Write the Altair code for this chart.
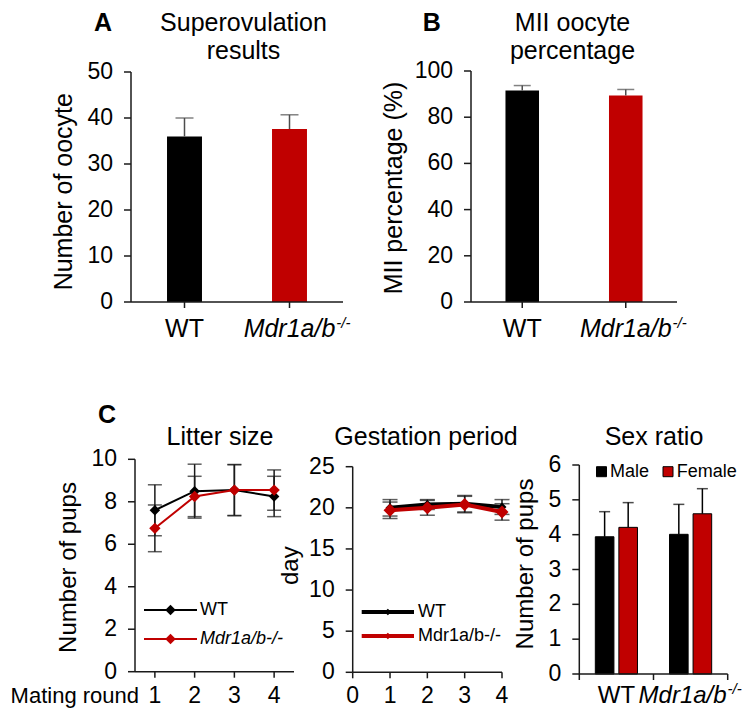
import altair as alt
import pandas as pd

FONT = "Liberation Sans"
RED = "#C00000"
INK = "#1a1a1a"
ERR = "#4d4d4d"
H = 701  # drawing height (chart coords)

# ---------------- data ----------------
genotypes = ["WT", "Mdr1a/b-/-"]
oocyte_mean = [36.0, 37.6]
oocyte_err = [4.0, 3.1]
oocyte_ticks = [0, 10, 20, 30, 40, 50]
mii_mean = [91.6, 89.4]
mii_err = [2.1, 2.6]
mii_ticks = [0, 20, 40, 60, 80, 100]

rounds = [1, 2, 3, 4]
litter_wt = [7.6, 8.5, 8.55, 8.25]
litter_wt_err = [1.2, 1.27, 1.2, 0.95]
litter_ko = [6.75, 8.25, 8.55, 8.55]
litter_ko_err = [1.1, 0.95, 1.2, 0.95]
litter_ticks = [0, 2, 4, 6, 8, 10]

gest_wt = [20.0, 20.4, 20.5, 20.1]
gest_wt_err = [1.0, 0.6, 1.0, 0.9]
gest_ko = [19.7, 20.0, 20.4, 19.5]
gest_ko_err = [1.0, 0.9, 1.0, 1.0]
gest_ticks = [0, 5, 10, 15, 20, 25]
gest_xticks = [0, 1, 2, 3, 4]

sexes = ["Male", "Female"]
sex_wt = [3.94, 4.21]
sex_wt_err = [0.72, 0.71]
sex_ko = [4.01, 4.60]
sex_ko_err = [0.86, 0.72]
sex_ticks = [0, 1, 2, 3, 4, 5, 6]

dummy = pd.DataFrame({"a": [0]})
NOAX = dict(axis=None)


def text(t, x, y, size=25, bold=False, italic=False, align="center", baseline="alphabetic",
         lh=28, angle=0):
    kw = dict(text=t, font=FONT, fontSize=size, fontWeight="bold" if bold else "normal",
              fontStyle="italic" if italic else "normal", align=align, baseline=baseline,
              lineHeight=lh, color="black")
    if angle:
        kw["angle"] = angle
    return alt.Chart(dummy).mark_text(**kw).encode(x=alt.value(x), y=alt.value(y))


def y_axis(ticks, axis_x, title, tx, ty, lsize=23, tsize=25):
    """Left axis drawn through the panel's own y scale."""
    tdf = pd.DataFrame({"t": ticks})
    ddf = pd.DataFrame({"lo": [ticks[0]], "hi": [ticks[-1]]})
    dom = alt.Chart(ddf).mark_rule(color=INK, strokeWidth=1.5).encode(
        x=alt.value(axis_x), y=alt.Y("lo:Q", **NOAX), y2="hi:Q")
    tk = alt.Chart(tdf).mark_rule(color=INK, strokeWidth=1.5).encode(
        x=alt.value(axis_x - 7), x2=alt.value(axis_x), y=alt.Y("t:Q", **NOAX))
    lab = alt.Chart(tdf).mark_text(font=FONT, fontSize=lsize, align="right", baseline="middle",
                                   color="black").encode(
        x=alt.value(axis_x - 18), y=alt.Y("t:Q", **NOAX), text=alt.Text("t:Q", format="d"))
    ttl = text(title, tx, ty, size=tsize, angle=270)
    return [dom, tk, lab, ttl]


def x_domain_line(x0, x1, y0):
    return alt.Chart(pd.DataFrame({"lo": [y0]})).mark_rule(color=INK, strokeWidth=1.5).encode(
        x=alt.value(x0), x2=alt.value(x1), y=alt.Y("lo:Q", **NOAX))


def geno_labels(df, label_y, size=25, ko_dx=0):
    half = 3.668 * size / 2
    wt = alt.Chart(df).transform_filter(alt.datum.g == "WT").mark_text(
        text="WT", font=FONT, fontSize=size, baseline="alphabetic", color="black"
    ).encode(x=alt.X("g:N", **NOAX), y=alt.value(label_y))
    ko = alt.Chart(df).transform_filter(alt.datum.g != "WT").mark_text(
        text="Mdr1a/b", font=FONT, fontSize=size, fontStyle="italic", baseline="alphabetic",
        color="black", dx=ko_dx
    ).encode(x=alt.X("g:N", **NOAX), y=alt.value(label_y))
    sup = alt.Chart(df).transform_filter(alt.datum.g != "WT").mark_text(
        text="-/-", font=FONT, fontSize=15, fontStyle="italic", align="left", dx=half + 1 + ko_dx,
        baseline="alphabetic", color="black"
    ).encode(x=alt.X("g:N", **NOAX), y=alt.value(label_y - 9))
    return [wt, ko, sup]


# ---------------- bar panels (A, B) ----------------
def bar_panel(means, errs, ticks, xr, yr, pi, po, ytitle, tx, ty, cap):
    df = pd.DataFrame({"g": genotypes, "v": means, "e": errs})
    xs = alt.Scale(domain=genotypes, range=xr, paddingInner=pi, paddingOuter=po)
    ys = alt.Scale(domain=[ticks[0], ticks[-1]], range=yr, nice=False, zero=False)
    base = alt.Chart(df).transform_calculate(hi="datum.v + datum.e")
    bars = base.mark_bar().encode(
        x=alt.X("g:N", scale=xs, **NOAX),
        y=alt.Y("v:Q", scale=ys, **NOAX),
        color=alt.Color("g:N", scale=alt.Scale(domain=genotypes, range=["#000000", RED]), legend=None),
    )
    rule = base.mark_rule(color=ERR, strokeWidth=1.5).encode(
        x=alt.X("g:N", **NOAX), y=alt.Y("v:Q", **NOAX), y2="hi:Q")
    capm = base.mark_tick(orient="horizontal", size=cap, thickness=1.5, color=ERR).encode(
        x=alt.X("g:N", **NOAX), y=alt.Y("hi:Q", **NOAX))
    xticks = alt.Chart(df).mark_rule(color=INK, strokeWidth=1.5).encode(
        x=alt.X("g:N", **NOAX), y=alt.value(yr[0]), y2=alt.value(yr[0] + 6))
    return alt.layer(bars, rule, capm, x_domain_line(xr[0], xr[1], ticks[0]), xticks,
                     *y_axis(ticks, xr[0], ytitle, tx, ty), *geno_labels(df, 329))


pA = alt.layer(
    bar_panel(oocyte_mean, oocyte_err, oocyte_ticks, [123, 335], [294, 64], 0.667, 0.343,
              "Number of oocyte", 64, 183.7, 18),
    text("A", 95, 23, bold=True),
    text(["Superovulation", "results"], 235.5, 23),
)

pB = alt.layer(
    bar_panel(mii_mean, mii_err, mii_ticks, [463, 669], [294, 63], 0.676, 0.333,
              "MII percentage (%)", 393.7, 180, 17),
    text("B", 423.7, 23, bold=True),
    text(["MII oocyte", "percentage"], 564.5, 23),
)


# ---------------- line panels (C: litter size, gestation period) ----------------
def line_panel(wt, wte, ko, koe, xdom, xr, xticks, yticks, yr, ytitle, tx, ty,
               lw, wt_size, ko_size, cap):
    df = pd.DataFrame({"r": rounds * 2, "g": ["WT"] * 4 + ["KO"] * 4,
                       "v": wt + ko, "e": wte + koe})
    xs = alt.Scale(domain=xdom, range=xr, nice=False, zero=False)
    ys = alt.Scale(domain=[yticks[0], yticks[-1]], range=yr, nice=False, zero=False)
    base = alt.Chart(df).transform_calculate(hi="datum.v + datum.e", lo="datum.v - datum.e")
    err = base.mark_rule(color=INK, strokeWidth=1.5).encode(
        x=alt.X("r:Q", scale=xs, **NOAX), y=alt.Y("lo:Q", scale=ys, **NOAX), y2="hi:Q")
    cap_hi = base.mark_tick(orient="horizontal", size=cap, thickness=1.5, color=INK).encode(
        x=alt.X("r:Q", **NOAX), y=alt.Y("hi:Q", **NOAX))
    cap_lo = base.mark_tick(orient="horizontal", size=cap, thickness=1.5, color=INK).encode(
        x=alt.X("r:Q", **NOAX), y=alt.Y("lo:Q", **NOAX))
    xt = pd.DataFrame({"t": xticks})
    xtick_m = alt.Chart(xt).mark_rule(color=INK, strokeWidth=1.5).encode(
        x=alt.X("t:Q", **NOAX), y=alt.value(yr[0]), y2=alt.value(yr[0] + 6))
    xlab_m = alt.Chart(xt).mark_text(font=FONT, fontSize=23, baseline="alphabetic", color="black").encode(
        x=alt.X("t:Q", **NOAX), y=alt.value(695), text=alt.Text("t:Q", format="d"))
    layers = [err, cap_hi, cap_lo]
    for g, col, sz in [("WT", "#000000", wt_size), ("KO", RED, ko_size)]:
        s = base.transform_filter(alt.datum.g == g)
        layers.append(s.mark_line(color=col, strokeWidth=lw).encode(
            x=alt.X("r:Q", **NOAX), y=alt.Y("v:Q", **NOAX)))
        layers.append(s.mark_point(shape="diamond", filled=True, opacity=1, color=col, size=sz).encode(
            x=alt.X("r:Q", **NOAX), y=alt.Y("v:Q", **NOAX)))
    layers += [x_domain_line(xr[0], xr[1], yticks[0]), xtick_m, xlab_m]
    layers += y_axis(yticks, xr[0], ytitle, tx, ty, lsize=23, tsize=24)
    return alt.layer(*layers)


def line_legend(x0, x1, ys, labels, italics, lw, msize, tx):
    out = []
    for y, lab, col, it in zip(ys, labels, ["#000000", RED], italics):
        out.append(alt.Chart(dummy).mark_rule(color=col, strokeWidth=lw).encode(
            x=alt.value(x0), x2=alt.value(x1), y=alt.value(y)))
        out.append(alt.Chart(dummy).mark_point(shape="diamond", filled=True, opacity=1, color=col,
                                               size=msize).encode(
            x=alt.value((x0 + x1) / 2), y=alt.value(y)))
        out.append(text(lab, tx, y, size=18, italic=it, align="left", baseline="middle"))
    return out


pC1 = alt.layer(
    line_panel(litter_wt, litter_wt_err, litter_ko, litter_ko_err, [0.5, 4.5], [127, 286], rounds,
               litter_ticks, [663.7, 451.3], "Number of pups", 68, 559.5, 2, 110, 130, 14),
    *line_legend(136, 189, [602, 631], ["WT", "Mdr1a/b-/-"], [False, True], 2, 110, 192),
    text("Mating round", 131, 695, size=22, align="right"),
    text("C", 99, 415, bold=True),
    text("Litter size", 212, 437),
)

pC2 = alt.layer(
    line_panel(gest_wt, gest_wt_err, gest_ko, gest_ko_err, [0, 4], [344.7, 494], gest_xticks,
               gest_ticks, [664.3, 458.7], "day", 290, 557.7, 4, 80, 170, 15),
    *line_legend(353.7, 406, [604, 628], ["WT", "Mdr1a/b-/-"], [False, False], 4, 45, 410),
    text("Gestation period", 418, 437),
)

# ---------------- sex ratio ----------------
sex_df = pd.DataFrame({
    "g": [genotypes[0]] * 2 + [genotypes[1]] * 2,
    "s": sexes * 2,
    "v": sex_wt + sex_ko,
    "e": sex_wt_err + sex_ko_err,
})
SX = [571.3, 719.7]
SY = [666, 457]
sxs = alt.Scale(domain=genotypes, range=SX, paddingInner=0, paddingOuter=0)
sys_ = alt.Scale(domain=[sex_ticks[0], sex_ticks[-1]], range=SY, nice=False, zero=False)
sofs = alt.Scale(domain=sexes, paddingInner=0.21, paddingOuter=0.68)
sbase = alt.Chart(sex_df).transform_calculate(hi="datum.v + datum.e")
sbars = sbase.mark_bar(stroke="black", strokeWidth=1).encode(
    x=alt.X("g:N", scale=sxs, **NOAX),
    xOffset=alt.XOffset("s:N", scale=sofs),
    y=alt.Y("v:Q", scale=sys_, **NOAX),
    color=alt.Color("s:N", scale=alt.Scale(domain=sexes, range=["#000000", RED]), legend=None),
)
srule = sbase.mark_rule(color="black", strokeWidth=1.5).encode(
    x=alt.X("g:N", **NOAX), xOffset=alt.XOffset("s:N"), y=alt.Y("v:Q", **NOAX), y2="hi:Q")
scap = sbase.mark_tick(orient="horizontal", size=11, thickness=1.5, color="black").encode(
    x=alt.X("g:N", **NOAX), xOffset=alt.XOffset("s:N"), y=alt.Y("hi:Q", **NOAX))
glab_df = pd.DataFrame({"g": genotypes})
stick0 = alt.Chart(glab_df).mark_rule(color=INK, strokeWidth=1.5).encode(
    x=alt.X("g:N", bandPosition=0, **NOAX), y=alt.value(SY[0]), y2=alt.value(SY[0] + 6))
stick1 = alt.Chart(glab_df).transform_filter(alt.datum.g != "WT").mark_rule(
    color=INK, strokeWidth=1.5).encode(
    x=alt.X("g:N", bandPosition=1, **NOAX), y=alt.value(SY[0]), y2=alt.value(SY[0] + 6))


def sex_key(sex, col, xc, tx):
    sq = alt.Chart(dummy).mark_square(size=100, fill=col, stroke="black", strokeWidth=1,
                                      opacity=1).encode(x=alt.value(xc), y=alt.value(463.7))
    return [sq, text(sex, tx, 463.7, size=18, align="left", baseline="middle")]


pC3 = alt.layer(
    alt.layer(sbars, srule, scap, x_domain_line(SX[0], SX[1], 0), stick0, stick1,
              *y_axis(sex_ticks, SX[0], "Number of pups", 525, 556, lsize=23, tsize=24),
              *geno_labels(glab_df, 695, size=24, ko_dx=-8)),
    *sex_key("Male", "#000000", 593.5, 602),
    *sex_key("Female", RED, 660, 668.7),
    text("Sex ratio", 646, 437),
)

chart = alt.layer(pA, pB, pC1, pC2, pC3).resolve_scale(
    x="independent", y="independent", color="independent"
).properties(
    width=734, height=H, autosize=alt.AutoSizeParams(type="none"), padding=0, background="white"
).configure_view(stroke=None)

chart.save("out.html", embed_options={"renderer": "svg", "actions": False})
